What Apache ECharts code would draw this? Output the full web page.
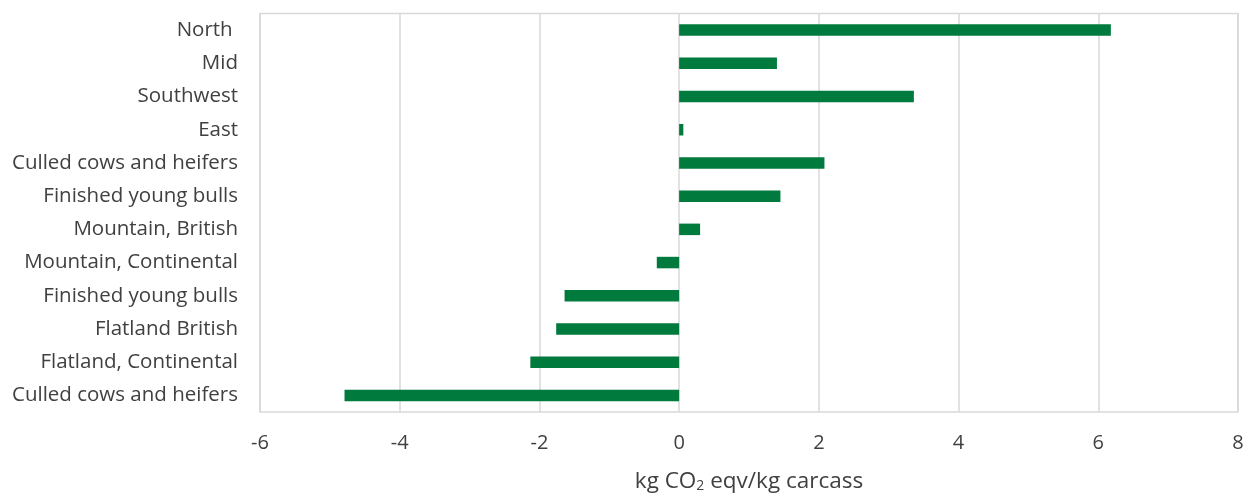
<!DOCTYPE html>
<html>
<head>
<meta charset="utf-8">
<script src="https://cdn.jsdelivr.net/npm/echarts@6/dist/echarts.min.js"></script>
<style>
  html, body { margin: 0; padding: 0; background: #ffffff; }
  #chart { width: 1245px; height: 494px; }
</style>
</head>
<body>
<div id="chart"></div>
<script>
// Categories, top to bottom
const categories = [
  'North ',
  'Mid',
  'Southwest',
  'East',
  'Culled cows and heifers',
  'Finished young bulls',
  'Mountain, British',
  'Mountain, Continental',
  'Finished young bulls',
  'Flatland British',
  'Flatland, Continental',
  'Culled cows and heifers'
];

// Emission difference, kg CO2 eqv per kg carcass
const values = [6.18, 1.40, 3.36, 0.06, 2.08, 1.45, 0.30, -0.32, -1.64, -1.76, -2.13, -4.79];

// Value axis ticks
const xTicks = [-6, -4, -2, 0, 2, 4, 6, 8];

const FONT = '"Open Sans", sans-serif';
const TEXT = '#404040';
const GRID = '#d9d9d9';

const chart = echarts.init(document.getElementById('chart'), null, { renderer: 'canvas' });

chart.setOption({
  animation: false,
  backgroundColor: '#ffffff',
  grid: {
    left: 260, right: 7, top: 13.5, bottom: 82,
    outerBoundsMode: 'none',
    show: true, borderColor: GRID, borderWidth: 1.5, backgroundColor: 'transparent'
  },
  xAxis: {
    type: 'value',
    min: xTicks[0],
    max: xTicks[xTicks.length - 1],
    interval: xTicks[1] - xTicks[0],
    axisLine: { show: false },
    axisTick: { show: false },
    splitLine: { show: true, lineStyle: { color: GRID, width: 1.5 } },
    axisLabel: {
      color: TEXT, fontFamily: FONT, fontSize: 20, margin: 21,
      formatter: v => String(v)
    },
    name: 'kg CO{sub|2} eqv/kg carcass',
    nameLocation: 'middle',
    nameGap: 58,
    nameTextStyle: {
      color: TEXT, fontFamily: FONT, fontSize: 22.5,
      rich: {
        sub: { fontFamily: FONT, fontSize: 14, color: TEXT, verticalAlign: 'bottom', padding: [9, 0, 0, 0] }
      }
    }
  },
  yAxis: {
    type: 'category',
    data: categories,
    inverse: true,
    axisLine: { show: false },
    axisTick: { show: false },
    splitLine: { show: false },
    axisLabel: {
      color: TEXT, fontFamily: FONT, fontSize: 20.5, margin: 22
    }
  },
  series: [{
    type: 'bar',
    data: values,
    barWidth: 11.5,
    itemStyle: { color: '#007a3d' }
  }]
});
</script>
</body>
</html>
